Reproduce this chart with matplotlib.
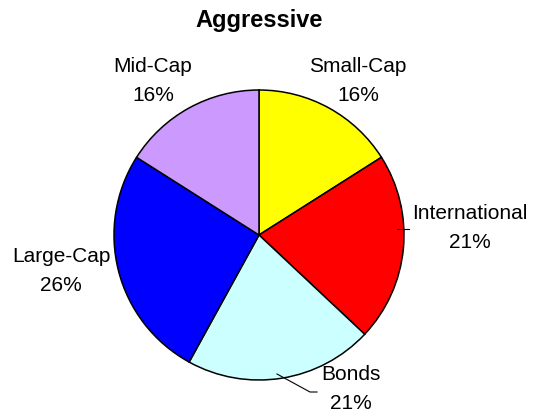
import matplotlib
matplotlib.use("Agg")
from matplotlib import pyplot as plt

plt.rcParams['font.family'] = ['Liberation Sans', 'DejaVu Sans']

# allocation, clockwise from 12 o'clock
labels = ["Small-Cap", "International", "Bonds", "Large-Cap", "Mid-Cap"]
shares = [16, 21, 21, 26, 16]
colors = ["#FFFF00", "#FF0000", "#CCFFFF", "#0000FF", "#CC99FF"]

W, H = 541, 417
CX, CY, R = 259, 235, 145


def px(x, y):
    # pixel position (origin top-left) -> pie data units
    return (x - CX) / R, (CY - y) / R


fig = plt.figure(figsize=(W / 100, H / 100), dpi=100)
ax = fig.add_axes([0, 0, 1, 1])

ax.pie(shares, colors=colors, startangle=90, counterclock=False,
       wedgeprops=dict(edgecolor="black", linewidth=1.1))

ax.set_xlim(px(0, 0)[0], px(W, 0)[0])
ax.set_ylim(px(0, H)[1], px(0, 0)[1])
ax.set_aspect("auto")
ax.axis("off")

# label block centres in pixels
label_pos = {
    "Small-Cap": (358, 81),
    "International": (470, 228),
    "Bonds": (351, 389),
    "Large-Cap": (61, 271),
    "Mid-Cap": (153, 81),
}
for name, val in zip(labels, shares):
    x, y = px(*label_pos[name])
    ax.text(x, y, f"{name}\n{val}%", ha="center", va="center",
            fontsize=15, linespacing=1.65)

# leader lines
lx, ly = zip(px(397, 229), px(409, 229))
ax.plot(lx, ly, color="black", linewidth=0.8)
bx, by = zip(px(277, 374), px(310, 392), px(317, 392))
ax.plot(bx, by, color="black", linewidth=0.8)

fig.text(CX / W, 1 - 20 / H, "Aggressive", ha="center", va="center",
         fontsize=17, fontweight="bold")

fig.savefig("out.png", dpi=100)
